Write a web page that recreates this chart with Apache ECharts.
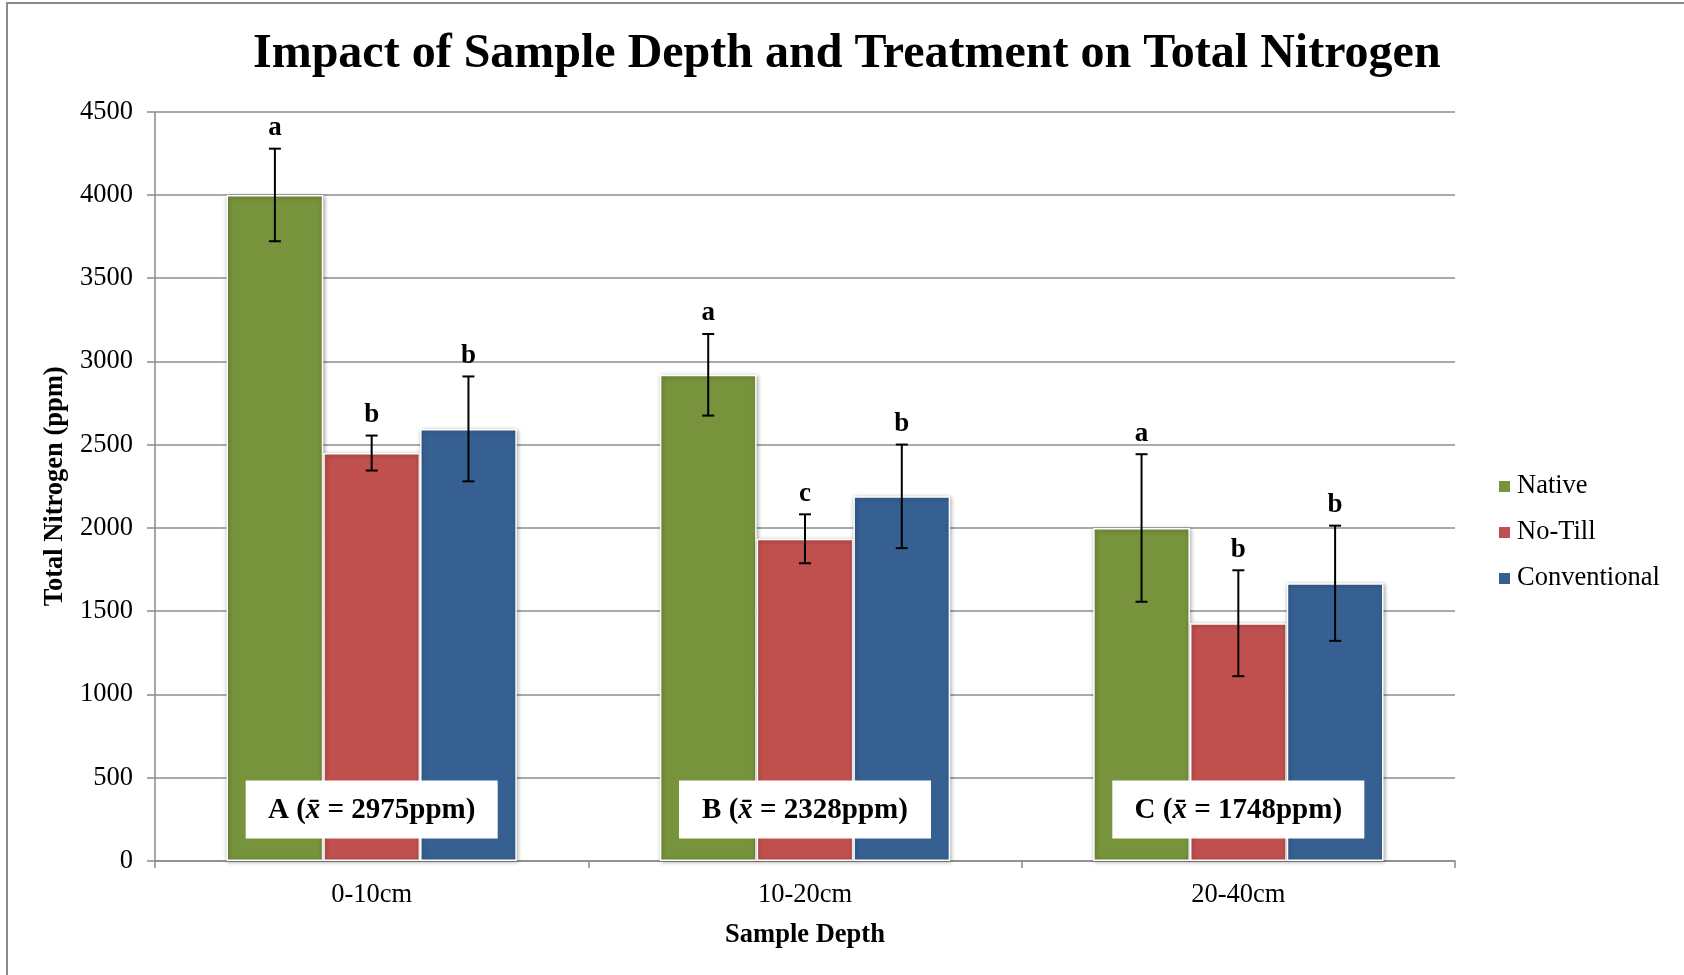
<!DOCTYPE html>
<html>
<head>
<meta charset="utf-8">
<script src="https://cdn.jsdelivr.net/npm/echarts@6/dist/echarts.min.js"></script>
<style>
html,body{margin:0;padding:0;background:#fff;}
#chart{width:1684px;height:975px;}
</style>
</head>
<body>
<div id="chart"></div>
<script>
// ---- data ----
const categories = ['0-10cm', '10-20cm', '20-40cm'];
const seriesNames = ['Native', 'No-Till', 'Conventional'];
const nativeVals = [4000, 2920, 2000];
const noTillVals = [2450, 1935, 1428];
const convVals = [2595, 2190, 1668];
const nativeErr = [278, 245, 443];
const noTillErr = [105, 147, 318];
const convErr = [315, 311, 346];
const nativeLetters = ['a', 'a', 'a'];
const noTillLetters = ['b', 'c', 'b'];
const convLetters = ['b', 'b', 'b'];
const groupLetters = ['A', 'B', 'C'];
const groupMeans = [2975, 2328, 1748];
const boxLevel = 310;
const yTicks = [0, 500, 1000, 1500, 2000, 2500, 3000, 3500, 4000, 4500];

const colors = ['#77933C', '#C0504D', '#366092'];
const FONT = '"Liberation Serif", "Times New Roman", serif';
const GAP = 0.33;
const FS = 26.5;

const allVals = [nativeVals, noTillVals, convVals];
const allErr = [nativeErr, noTillErr, convErr];
const allLetters = [nativeLetters, noTillLetters, convLetters];

const errData = [];
const errLetters = [];
for (let s = 0; s < 3; s++) {
  for (let c = 0; c < categories.length; c++) {
    errData.push([c, allVals[s][c] - allErr[s][c], allVals[s][c] + allErr[s][c], s]);
    errLetters.push(allLetters[s][c]);
  }
}
const boxData = categories.map((c, i) => [i, boxLevel]);

const chart = echarts.init(document.getElementById('chart'));

const barSeries = seriesNames.map((name, s) => ({
  name: name,
  type: 'bar',
  data: allVals[s],
  barGap: '0%',
  barCategoryGap: (GAP * 100) + '%',
  itemStyle: {
    color: colors[s],
    borderColor: '#ffffff',
    borderWidth: 1.5,
    shadowBlur: 4,
    shadowOffsetX: 1,
    shadowOffsetY: 1,
    shadowColor: 'rgba(0,0,0,0.35)'
  },
  emphasis: { disabled: true },
  z: 2
}));

chart.setOption({
  animation: false,
  backgroundColor: '#ffffff',
  title: {
    text: 'Impact of Sample Depth and Treatment on Total Nitrogen',
    left: 248,
    top: 26,
    textStyle: { fontFamily: FONT, fontWeight: 'bold', fontSize: 48, color: '#000' }
  },
  graphic: [{
    type: 'rect',
    shape: { x: 7, y: 3, width: 1700, height: 1000 },
    style: { fill: 'none', stroke: '#8a8a8a', lineWidth: 2 },
    silent: true
  }],
  legend: {
    orient: 'vertical',
    left: 1494,
    top: 468,
    itemWidth: 11,
    itemHeight: 11,
    itemGap: 19,
    icon: 'rect',
    data: seriesNames,
    itemStyle: { borderWidth: 0, shadowBlur: 0 },
    textStyle: { fontFamily: FONT, fontSize: FS, color: '#000', padding: [0, 0, 0, 2] }
  },
  grid: { left: 155, right: 229, top: 111.7, bottom: 114, containLabel: false },
  xAxis: {
    type: 'category',
    data: categories,
    name: 'Sample Depth',
    nameLocation: 'middle',
    nameGap: 61,
    nameTextStyle: { fontFamily: FONT, fontWeight: 'bold', fontSize: FS, color: '#000' },
    axisLine: { lineStyle: { color: '#8a8a8a', width: 1.5 } },
    axisTick: { show: true, length: 7, lineStyle: { color: '#8a8a8a', width: 1.5 } },
    axisLabel: { fontFamily: FONT, fontSize: FS, color: '#000', margin: 21 },
    splitLine: { show: false }
  },
  yAxis: {
    type: 'value',
    min: 0,
    max: 4500,
    interval: 500,
    name: 'Total Nitrogen (ppm)',
    nameLocation: 'middle',
    nameGap: 83,
    nameTextStyle: { fontFamily: FONT, fontWeight: 'bold', fontSize: FS, color: '#000' },
    axisLine: { show: true, lineStyle: { color: '#8a8a8a', width: 1.5 } },
    axisTick: { show: true, length: 8, lineStyle: { color: '#8a8a8a', width: 1.5 } },
    axisLabel: {
      fontFamily: FONT, fontSize: FS, color: '#000', margin: 22,
      formatter: v => (yTicks.indexOf(v) >= 0 ? String(v) : '')
    },
    splitLine: { show: true, lineStyle: { color: '#8e8e8e', width: 1.5 } }
  },
  series: barSeries.concat([
    {
      type: 'custom',
      name: 'errors',
      data: errData,
      encode: { x: 0, y: [1, 2] },
      z: 5,
      silent: true,
      renderItem: function (params, api) {
        const cat = api.value(0);
        const lo = api.value(1);
        const hi = api.value(2);
        const s = api.value(3);
        const band = api.size([1, 0])[0];
        const groupW = band * (1 - GAP);
        const bw = groupW / 3;
        const cx = api.coord([cat, 0])[0] - groupW / 2 + bw * (s + 0.5);
        const yl = api.coord([cat, lo])[1];
        const yh = api.coord([cat, hi])[1];
        const cap = 6;
        const st = { stroke: '#000', lineWidth: 2 };
        return {
          type: 'group',
          children: [
            { type: 'line', shape: { x1: cx, y1: yl, x2: cx, y2: yh }, style: st },
            { type: 'line', shape: { x1: cx - cap, y1: yl, x2: cx + cap, y2: yl }, style: st },
            { type: 'line', shape: { x1: cx - cap, y1: yh, x2: cx + cap, y2: yh }, style: st },
            {
              type: 'text',
              style: {
                x: cx, y: yh - 7,
                text: errLetters[params.dataIndex],
                align: 'center', verticalAlign: 'bottom',
                font: 'bold 27px ' + FONT, fill: '#000'
              }
            }
          ]
        };
      }
    },
    {
      type: 'custom',
      name: 'means',
      data: boxData,
      encode: { x: 0, y: 1 },
      z: 6,
      silent: true,
      renderItem: function (params, api) {
        const i = params.dataIndex;
        const p = api.coord([api.value(0), api.value(1)]);
        const w = 252, h = 58;
        return {
          type: 'group',
          children: [
            { type: 'rect', shape: { x: p[0] - w / 2, y: p[1] - h / 2, width: w, height: h }, style: { fill: '#ffffff' } },
            {
              type: 'text',
              style: {
                x: p[0], y: p[1] + 1,
                text: groupLetters[i] + ' ({i|x\u0304} = ' + groupMeans[i] + 'ppm)',
                align: 'center', verticalAlign: 'middle',
                font: 'bold 29px ' + FONT, fill: '#000',
                rich: { i: { fontStyle: 'italic', fontWeight: 'bold', fontSize: 29, fontFamily: FONT, fill: '#000' } }
              }
            }
          ]
        };
      }
    }
  ])
});
</script>
</body>
</html>
